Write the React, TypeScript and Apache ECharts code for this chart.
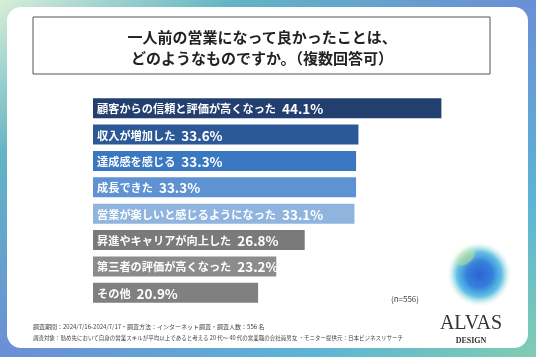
import React, { useEffect, useRef } from "react";
import * as echarts from "echarts";

const categories = [
  "顧客からの信頼と評価が高くなった",
  "収入が増加した",
  "達成感を感じる",
  "成長できた",
  "営業が楽しいと感じるようになった",
  "昇進やキャリアが向上した",
  "第三者の評価が高くなった",
  "その他",
];
const values = [44.1, 33.6, 33.3, 33.3, 33.1, 26.8, 23.2, 20.9];
const barColors = [
  "#223f6f",
  "#2d5898",
  "#3a78c2",
  "#5e92d2",
  "#8fb5df",
  "#7a7a7a",
  "#8c8c8c",
  "#808080",
];
const titleLines = [
  "一人前の営業になって良かったことは、",
  "どのようなものですか。（複数回答可）",
];
const footerLines = [
  "調査期間：2024/7/16-2024/7/17・調査方法：インターネット調査・調査人数：556 名",
  "調査対象：勤め先において自身の営業スキルが平均以上であると考える 20 代～ 40 代の営業職の会社員男女 ・モニター提供元：日本ビジネスリサーチ",
];
const sampleNote = "(n=556)";

const JP = '"Noto Sans CJK JP", "Noto Sans", sans-serif';
const SERIF = '"Liberation Serif", "DejaVu Serif", serif';

export default function App() {
  const ref = useRef<HTMLDivElement>(null);
  useEffect(() => {
    if (!ref.current) return;
    const chart = echarts.init(ref.current, null, { renderer: "svg" });
    chart.setOption({
      animation: false,
      backgroundColor: "transparent",
      grid: { left: 93, right: 48, top: 95, height: 211 },
      xAxis: {
        type: "value",
        min: 0,
        max: 50,
        show: false,
      },
      yAxis: {
        type: "category",
        data: categories,
        inverse: true,
        show: false,
      },
      graphic: [
        {
          type: "rect",
          z: -10,
          silent: true,
          shape: { x: 0, y: 0, width: 536, height: 357 },
          style: {
            fill: new echarts.graphic.LinearGradient(0, 0, 1, 1, [
              { offset: 0, color: "#d8eed8" },
              { offset: 0.22, color: "#62b4c4" },
              { offset: 0.5, color: "#6a8fd6" },
              { offset: 0.78, color: "#5cb4d6" },
              { offset: 1, color: "#80cdb0" },
            ]),
          },
        },
        {
          type: "rect",
          z: -9,
          silent: true,
          shape: { x: 7, y: 7, width: 521, height: 341, r: 14 },
          style: { fill: "#ffffff" },
        },
        {
          type: "rect",
          z: -8,
          silent: true,
          shape: { x: 33, y: 17, width: 457, height: 57 },
          style: { fill: "#ffffff", stroke: "#555555", lineWidth: 1 },
        },
        {
          type: "text",
          x: 262,
          y: 36,
          style: {
            text: titleLines[0],
            font: `bold 15px ${JP}`,
            fill: "#222222",
            align: "center",
            verticalAlign: "middle",
          },
        },
        {
          type: "text",
          x: 262,
          y: 57,
          style: {
            text: titleLines[1],
            font: `bold 15px ${JP}`,
            fill: "#222222",
            align: "center",
            verticalAlign: "middle",
          },
        },
        {
          type: "text",
          x: 33,
          y: 326,
          style: {
            text: footerLines[0],
            font: `6px ${JP}`,
            fill: "#444444",
            verticalAlign: "middle",
          },
        },
        {
          type: "text",
          x: 33,
          y: 338,
          style: {
            text: footerLines[1],
            font: `5.5px ${JP}`,
            fill: "#444444",
            verticalAlign: "middle",
          },
        },
        {
          type: "text",
          x: 405,
          y: 298,
          style: {
            text: sampleNote,
            font: `8px ${JP}`,
            fill: "#444444",
            align: "center",
            verticalAlign: "middle",
          },
        },
        {
          type: "circle",
          silent: true,
          shape: { cx: 478, cy: 273, r: 33 },
          style: {
            fill: new echarts.graphic.RadialGradient(0.52, 0.52, 0.5, [
              { offset: 0, color: "#2f62d2" },
              { offset: 0.4, color: "#3381dc" },
              { offset: 0.68, color: "rgba(70,180,225,0.85)" },
              { offset: 0.85, color: "rgba(140,215,220,0.35)" },
              { offset: 1, color: "rgba(255,255,255,0)" },
            ]),
          },
        },
        {
          type: "ellipse",
          silent: true,
          shape: { cx: 466, cy: 257, rx: 11, ry: 6 },
          rotation: 0.7,
          originX: 466,
          originY: 257,
          style: {
            fill: "rgba(200,232,150,0.45)",
            shadowBlur: 10,
            shadowColor: "rgba(200,232,150,0.6)",
          },
        },
        {
          type: "text",
          x: 471,
          y: 322,
          style: {
            text: "ALVAS",
            font: `20px ${SERIF}`,
            fill: "#333333",
            align: "center",
            verticalAlign: "middle",
          },
        },
        {
          type: "text",
          x: 471,
          y: 340,
          style: {
            text: "DESIGN",
            font: `bold 8px ${SERIF}`,
            fill: "#333333",
            align: "center",
            verticalAlign: "middle",
          },
        },
      ],
      series: [
        {
          type: "bar",
          data: values.map((v, i) => ({
            value: v,
            itemStyle: { color: barColors[i] },
          })),
          barWidth: 20,
          label: {
            show: true,
            position: "insideLeft",
            distance: 4,
            overflow: "none",
            formatter: (p: any) =>
              `{a|${categories[p.dataIndex]}}{b|${Number(p.value).toFixed(1)}%}`,
            rich: {
              a: {
                fontFamily: JP,
                fontWeight: "bold",
                fontSize: 11.2,
                color: "#ffffff",
                padding: [0, 6, 0, 0],
              },
              b: {
                fontFamily: JP,
                fontWeight: "bold",
                fontSize: 13.5,
                color: "#ffffff",
              },
            },
          },
        },
      ],
    });
    return () => chart.dispose();
  }, []);
  return (
    <div
      ref={ref}
      style={{ position: "fixed", left: 0, top: 0, width: 536, height: 357 }}
    />
  );
}
